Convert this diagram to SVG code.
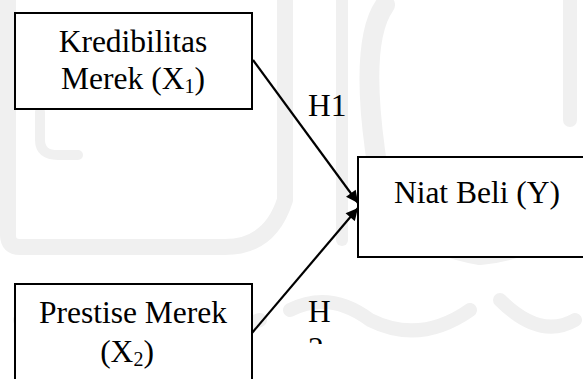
<svg xmlns="http://www.w3.org/2000/svg" width="583" height="379" viewBox="0 0 583 379">
<style>
.box{fill:#fff;stroke:#000;stroke-width:2}
.t{font-family:"Liberation Serif","Times New Roman",serif;font-size:31.5px;fill:#000}
.sub{font-size:20px}
.wm{fill:none;stroke:#f0f0f0;stroke-linecap:round;stroke-linejoin:round}
.conn{stroke:#000;stroke-width:2.2;fill:none;marker-end:url(#ah)}
</style>
<defs>
<marker id="ah" viewBox="0 0 10 10" refX="10" refY="5" markerWidth="6.5" markerHeight="5.5" markerUnits="strokeWidth" orient="auto">
<path d="M0,0 L10,5 L0,10 z" fill="#000"/>
</marker>
<clipPath id="cut"><rect x="290" y="300" width="60" height="44"/></clipPath>
</defs>
<rect width="583" height="379" fill="#fff"/>
<g id="watermark">
<path class="wm" stroke-width="16" d="M8,0 V235 Q8,247 20,247 H225 Q270,247 285,200 V0"/>
<path class="wm" stroke-width="10" d="M40,60 H75 L40,95 H78 M40,112 V140 Q40,155 58,155 H78"/>
<path class="wm" stroke-width="12" d="M342,0 V240"/>
<path class="wm" stroke-width="20" d="M385,5 Q360,40 375,150 Q385,240 480,255 Q540,250 560,210"/>
<path class="wm" stroke-width="14" d="M570,0 V120"/>
<path class="wm" stroke-width="14" d="M20,320 Q60,300 100,330 M160,300 Q200,340 260,320 M290,310 Q330,290 370,320 Q420,345 470,310 M500,300 Q540,340 575,320"/>
</g>
<g id="connectors">
<line class="conn" x1="253" y1="60" x2="358" y2="203"/>
<line class="conn" x1="252" y1="333" x2="358" y2="208"/>
</g>
<g id="node-x1">
<rect class="box" x="15" y="13" width="237" height="96"/>
<text class="t" x="133" y="52" text-anchor="middle">Kredibilitas</text>
<text class="t" x="133" y="89" text-anchor="middle">Merek (X<tspan class="sub" dy="4">1</tspan><tspan dy="-4">)</tspan></text>
</g>
<g id="node-y">
<rect class="box" x="358" y="157" width="240" height="100"/>
<text class="t" x="477" y="203" text-anchor="middle">Niat Beli (Y)</text>
</g>
<g id="node-x2">
<rect class="box" x="15" y="284" width="237" height="110"/>
<text class="t" x="133" y="323" text-anchor="middle">Prestise Merek</text>
<text class="t" x="127" y="362" text-anchor="middle">(X<tspan class="sub" dy="4">2</tspan><tspan dy="-4">)</tspan></text>
</g>
<g id="labels">
<text class="t" x="308" y="116">H1</text>
<text class="t" x="308" y="322">H</text>
<text class="t" x="308" y="359" clip-path="url(#cut)">2</text>
</g>
</svg>
